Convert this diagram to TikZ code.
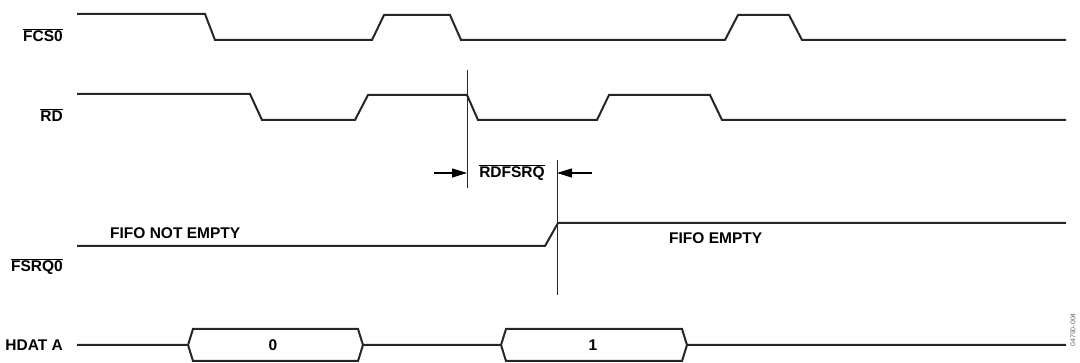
\documentclass[tikz,border=0pt]{standalone}
\usepackage{fontspec}
\setmainfont{Liberation Sans}
\usetikzlibrary{arrows.meta}
\newcommand{\ovl}[1]{$\overline{\mbox{#1}}$}
\begin{document}
\begin{tikzpicture}[x=1pt,y=-1pt,
  wave/.style={line width=2pt,draw=black!85,line join=miter},
  guide/.style={line width=0.9pt,draw=black!85},
  sig/.style={font=\fontsize{15.5}{17}\selectfont\bfseries,anchor=east,inner sep=0pt},
  txt/.style={font=\fontsize{15.5}{17}\selectfont\bfseries,inner sep=0pt},
  dim/.style={line width=1.3pt,-{Triangle[length=15pt,width=9pt]}}]
\useasboundingbox (0,0) rectangle (1080,363);
% labels
\node[sig] (lfcs) at (63,35) {\ovl{FCS0}};
\node[sig] (lrd) at (63,115) {\ovl{RD}};
\node[sig] (lfsrq) at (63,267) {\ovl{FSRQ0}};
\node[sig] (lhdat) at (63,345) {HDAT A};
% FCS0
\draw[wave] (77,14) -- (205,14) -- (215,40) -- (372,40) -- (384,15) -- (450,15) -- (461,40)
  -- (725,40) -- (738,15) -- (789,15) -- (802,40) -- (1066,40);
% RD
\draw[wave] (77,94) -- (250,94) -- (262,120) -- (355,120) -- (368,95) -- (467,95) -- (478,120)
  -- (597,120) -- (609,95) -- (710,95) -- (722,120) -- (1066,120);
% FSRQ0
\draw[wave] (77,246) -- (545,246) -- (558,223) -- (1066,223);
\node[txt,anchor=west] (tne) at (110,233) {FIFO NOT EMPTY};
\node[txt,anchor=west] (tem) at (669,238) {FIFO EMPTY};
% HDAT A
\draw[wave] (77,345) -- (188,345) -- (193,329) -- (358,329) -- (363,345) -- (501,345)
  -- (506,329) -- (682,329) -- (687,345) -- (1066,345);
\draw[wave] (188,345) -- (193,361) -- (358,361) -- (363,345);
\draw[wave] (501,345) -- (506,361) -- (682,361) -- (687,345);
\node[txt] (d0) at (273,345) {0};
\node[txt] (d1) at (593,345) {1};
% timing guides
\coordinate (g1t) at (467,70);
\coordinate (g1b) at (467,188);
\coordinate (g2t) at (557,160);
\coordinate (g2b) at (557,295);
\draw[guide] (g1t) -- (g1b);
\draw[guide] (g2t) -- (g2b);
\coordinate (a1) at (434,173);
\coordinate (a2) at (592,173);
\draw[dim] (a1) -- (a1 -| g1t);
\draw[dim] (a2) -- (a2 -| g2t);
\node[txt] (trd) at (512,173) {\ovl{RDFSRQ}};
% figure number
\node[rotate=90,anchor=east,font=\fontsize{7}{8}\selectfont,text=black!60,inner sep=0pt] (fig) at (1073,313) {04790-004};
\end{tikzpicture}
\end{document}
